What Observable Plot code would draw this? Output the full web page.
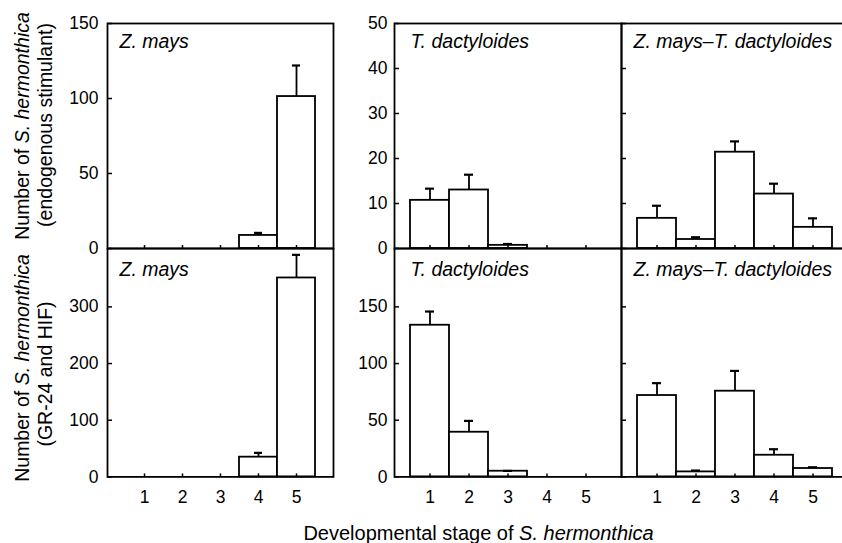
<!DOCTYPE html>
<html>
<head>
<meta charset="utf-8">
<script src="https://cdn.jsdelivr.net/npm/d3@7"></script>
<script src="https://cdn.jsdelivr.net/npm/@observablehq/plot@0.6"></script>
<style>
  html, body { margin: 0; padding: 0; background: white; }
  #wrap { position: relative; width: 842px; height: 543px; overflow: hidden; background: white;
          font-family: "Liberation Sans", Arial, Helvetica, sans-serif; }
  #wrap svg { position: absolute; }
</style>
</head>
<body>
<div id="wrap"></div>
<script>
// ---- data ----
const stages = [1, 2, 3, 4, 5];

// Top row: endogenous stimulant
const zmaysEndo     = [0, 0, 0, 8.7, 101.3];
const zmaysEndoErr  = [0, 0, 0, 1.7, 20.7];
const tdactEndo     = [10.7, 13.0, 0.7, 0, 0];
const tdactEndoErr  = [2.6, 3.4, 0.3, 0, 0];
const mixEndo       = [6.7, 2.0, 21.4, 12.1, 4.7];
const mixEndoErr    = [2.8, 0.5, 2.4, 2.3, 2.0];

// Bottom row: GR-24 and HIF
const zmaysGR       = [0, 0, 0, 34.8, 351];
const zmaysGRErr    = [0, 0, 0, 7.6, 40.8];
const tdactGR       = [133.8, 39.4, 5.0, 0, 0];
const tdactGRErr    = [12.1, 10.0, 0.3, 0, 0];
const mixGR         = [71.8, 4.4, 75.6, 19.1, 7.4];
const mixGRErr      = [10.9, 1.2, 17.9, 5.3, 1.1];

// tick values
const ticksTopLeft    = [0, 50, 100, 150];
const ticksTopOther   = [0, 10, 20, 30, 40, 50];
const ticksBotLeft    = [0, 100, 200, 300];
const ticksBotOther   = [0, 50, 100, 150];

const hostLabels = ["Z. mays", "T. dactyloides", "Z. mays\u2013T. dactyloides"];

// ---- layout ----
const FONT = '"Liberation Sans", Arial, Helvetica, sans-serif';
const colX = [107, 394, 621];
const colW = [226, 227, 227];
const rowY = [23.3, 248.3];
const rowH = [225, 228.4];
const yDomains = [[[0, 150], [0, 50], [0, 50]], [[0, 403], [0, 201.5], [0, 201.5]]];
const yTicks = [[ticksTopLeft, ticksTopOther, ticksTopOther], [ticksBotLeft, ticksBotOther, ticksBotOther]];
const values = [[zmaysEndo, tdactEndo, mixEndo], [zmaysGR, tdactGR, mixGR]];
const errs = [[zmaysEndoErr, tdactEndoErr, mixEndoErr], [zmaysGRErr, tdactGRErr, mixGRErr]];
const labelDx = [12, 16, 12];
const labelDy = [10.5, 14];
const SW = 1.8;

const wrap = document.getElementById("wrap");

for (let r = 0; r < 2; r++) {
  for (let c = 0; c < 3; c++) {
    const showY = c < 2;
    const showX = r === 1;
    const ml = showY ? 60 : 0;
    const mb = showX ? 40 : 0;
    const data = stages.map((s, i) => ({stage: s, v: values[r][c][i], e: errs[r][c][i]})).filter(d => d.v > 0);
    const chart = Plot.plot({
      width: colW[c] + ml,
      height: rowH[r] + mb,
      marginLeft: ml, marginRight: 0, marginTop: 0, marginBottom: mb,
      style: {fontFamily: FONT, fontSize: "17.5px", color: "black", background: "none", overflow: "visible", maxWidth: "none"},
      x: {type: "band", domain: stages, paddingInner: 0, paddingOuter: 0.4, align: 0.5},
      y: {domain: yDomains[r][c]},
      marks: [
        Plot.barY(data, {x: "stage", y: "v", fill: "white", stroke: "black", strokeWidth: SW, inset: 0}),
        Plot.ruleX(data, {x: "stage", y1: "v", y2: d => d.v + d.e, stroke: "black", strokeWidth: SW}),
        Plot.tickY(data, {x: "stage", y: d => d.v + d.e, stroke: "black", strokeWidth: 2.2, insetLeft: 15, insetRight: 15}),
        Plot.frame({stroke: "black", strokeWidth: SW}),
        Plot.axisY({ticks: yTicks[r][c], tickSize: -5, tickPadding: showY ? (c === 0 ? 14 : 12) : 0,
                    tickFormat: showY ? (d => String(d)) : (() => ""), label: null, strokeWidth: 1.5, fontSize: 17.5}),
        Plot.axisX({tickSize: -3, tickPadding: 17, tickFormat: showX ? (d => String(d)) : (() => ""),
                    label: null, strokeWidth: 1.5, fontSize: 17.5}),
        Plot.text([hostLabels[c]], {text: d => d, frameAnchor: "top-left", textAnchor: "start", lineAnchor: "top",
                    dx: labelDx[c], dy: labelDy[r], fontStyle: "italic", fontSize: 19.5, fill: "black"})
      ]
    });
    chart.style.left = (colX[c] - ml) + "px";
    chart.style.top = rowY[r] + "px";
    wrap.appendChild(chart);
  }
}

// ---- axis titles (real text) ----
const overlay = d3.create("svg")
  .attr("width", 842).attr("height", 543)
  .style("left", "0px").style("top", "0px").style("overflow", "visible")
  .style("font-family", FONT).style("pointer-events", "none");

function yTitle(cy, cx, parts, size) {
  const t = overlay.append("text")
    .attr("transform", `translate(${cx},${cy}) rotate(-90)`)
    .attr("text-anchor", "middle")
    .attr("font-size", size)
    .attr("fill", "black");
  parts.forEach(([s, it]) => t.append("tspan").attr("font-style", it ? "italic" : "normal").text(s));
}
yTitle(126, 28.5, [["Number of "], ["S. hermonthica", true]], 19.5);
yTitle(125, 51.5, [["(endogenous stimulant)"]], 19.5);
yTitle(368, 28.5, [["Number of "], ["S. hermonthica", true]], 19.5);
yTitle(374, 51.5, [["(GR-24 and HIF)"]], 19.5);

const xt = overlay.append("text")
  .attr("x", 478.5).attr("y", 540)
  .attr("text-anchor", "middle").attr("font-size", 20).attr("fill", "black");
xt.append("tspan").text("Developmental stage of ");
xt.append("tspan").attr("font-style", "italic").text("S. hermonthica");

wrap.appendChild(overlay.node());
</script>
</body>
</html>
